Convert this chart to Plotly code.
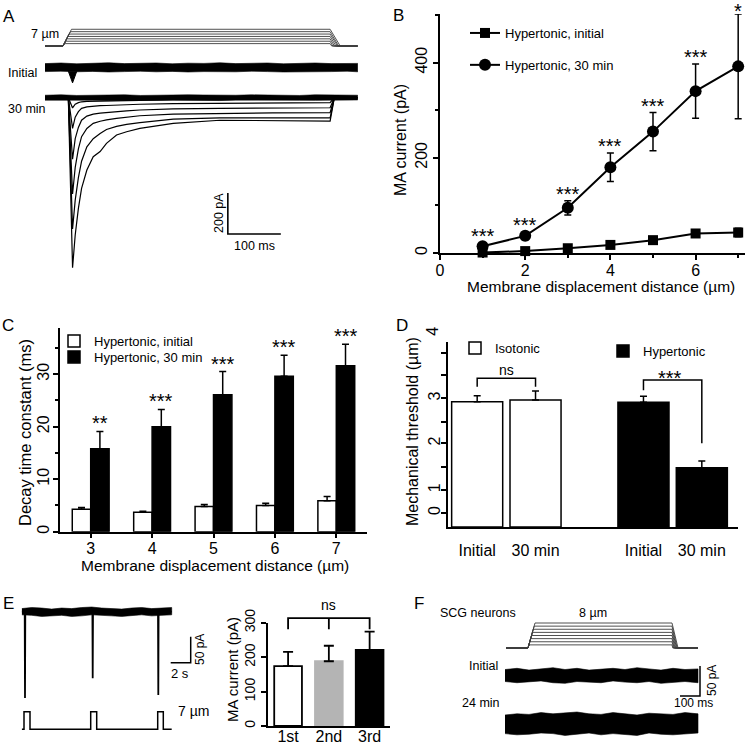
import plotly.graph_objects as go

W, H = 746, 750
FONT = "Liberation Sans, Arial, Helvetica, sans-serif"


def fx(p):
    return p / W


def fy(p):
    return 1 - p / H


# ======================= DATA =======================
# ---- Panel A: stimulus protocol (µm) ----
A_steps = [1, 2, 3, 4, 5, 6, 7]
A_ramp_on = 34          # ms
A_up_end = [36, 39, 41, 43, 45, 48, 50]
A_ramp_off = 538
A_down_end = [541, 543, 546, 549, 552, 554, 557]
A_t_end = 590

# ---- Panel A: "Initial" noisy trace envelope (pA) ----
A_env_t = [0, 30, 60, 90, 120, 150, 180, 210, 240, 270, 300, 330, 360, 390, 420, 450, 480, 510, 540, 570, 590]
A_init_up = [19, 22, 18, 21, 23, 19, 20, 22, 18, 21, 20, 23, 19, 21, 22, 18, 20, 22, 19, 21, 20]
A_init_lo = [-20, -18, -21, -19, -22, -20, -18, -21, -19, -22, -20, -19, -21, -18, -20, -22, -19, -21, -20, -18, -21]
A_init_dip_t = [44, 52, 60]
A_init_dip_i = [-18, -75, -18]
A_base_up = [12, 14, 11, 13, 12, 14, 11, 13, 12, 14, 13, 11, 12, 14, 13, 12, 11, 14, 12, 13, 12]
A_base_lo = [-12, -11, -13, -12, -14, -11, -13, -12, -11, -13, -12, -14, -11, -12, -13, -11, -12, -13, -14, -12, -11]

# ---- Panel A: "30 min" MA currents (pA) for 2–7 µm ----
A_t = [0, 44, 52, 57, 63, 69, 79, 91, 104, 116, 135, 154, 179, 242, 330, 430, 538, 546, 590]
A_30_2um = [0, 0, -50, -32, -24, -20, -18, -17, -16, -15, -15, -14, -13, -11, -10, -9, -8, 0, 0]
A_30_3um = [0, 0, -150, -95, -68, -52, -45, -41, -39, -38, -36, -34, -32, -29, -27, -25, -24, 0, 0]
A_30_4um = [0, 0, -300, -200, -145, -110, -90, -80, -75, -72, -68, -64, -60, -55, -52, -50, -49, 0, 0]
A_30_5um = [0, 0, -470, -340, -250, -190, -150, -125, -115, -108, -101, -95, -88, -80, -76, -74, -73, 0, 0]
A_30_6um = [0, 0, -640, -500, -390, -310, -240, -200, -175, -155, -140, -130, -122, -105, -98, -97, -98, 0, 0]
A_30_7um = [0, 0, -829, -670, -540, -442, -353, -288, -263, -223, -182, -166, -150, -125, -110, -112, -114, 0, 0]

# ---- Panel B ----
B_x = [1, 2, 3, 4, 5, 6, 7]
B_init = [1, 4, 10, 17, 27, 41, 43]
B_init_err = [1, 2, 3, 4, 5, 5, 9]
B_30 = [14, 36, 95, 180, 255, 340, 392]
B_30_err = [6, 8, 15, 30, 40, 57, 110]
B_sig = ["***", "***", "***", "***", "***", "***", "*"]

# ---- Panel C ----
C_x = [3, 4, 5, 6, 7]
C_init = [4.3, 3.7, 4.8, 5.0, 5.9]
C_init_err = [0.3, 0.2, 0.4, 0.4, 0.8]
C_30 = [15.8, 20.0, 26.1, 29.6, 31.6]
C_30_err = [3.3, 3.3, 4.4, 4.0, 4.1]
C_sig = ["**", "***", "***", "***", "***"]

# ---- Panel D ----
D_cond = ["Initial", "30 min"]
D_iso = [2.92, 2.96]
D_iso_err = [0.14, 0.21]
D_hyp = [2.91, 1.38]
D_hyp_err = [0.14, 0.16]

# ---- Panel E ----
E_stim_t = [0, 0.23, 0.23, 0.83, 0.83, 6.9, 6.9, 7.5, 7.5, 13.6, 13.6, 14.16, 14.16, 15.0]
E_stim_um = [0, 0, 7, 7, 0, 0, 7, 7, 0, 0, 7, 7, 0, 0]
E_trace_t = [0, 0.30, 0.33, 0.36, 7.07, 7.10, 7.13, 13.63, 13.66, 13.69, 15.0]
E_trace_pA = [0, 0, -166, 0, 0, -128, 0, 0, -160, 0, 0]
E_env_t = [0, 1, 2, 3, 4, 5, 6, 7, 8, 9, 10, 11, 12, 13, 14, 15]
E_env_up = [6, 8, 7, 5, 7, 6, 8, 9, 7, 6, 5, 7, 8, 6, 7, 8]
E_env_lo = [-6, -7, -9, -8, -7, -9, -8, -6, -7, -8, -9, -7, -6, -8, -7, -6]
E_labels = ["1st", "2nd", "3rd"]
E_vals = [174, 188, 221]
E_err = [41, 45, 53]

# ---- Panel F ----
F_steps = [1, 2, 3, 4, 5, 6, 7, 8]
F_t_start = 5
F_ramp_on = 115
F_up_end = [119, 124, 128, 133, 137, 141, 146, 150]
F_ramp_off = 835
F_down_end = [839, 843, 846, 850, 854, 858, 861, 865]
F_t_end = 965
F_env_t = [0, 60, 120, 180, 240, 300, 360, 420, 480, 540, 600, 660, 720, 780, 840, 900, 965]
F_init_up = [10, 12, 9, 11, 13, 10, 12, 9, 11, 12, 10, 13, 11, 9, 12, 10, 11]
F_init_lo = [-10, -12, -11, -9, -12, -13, -10, -11, -12, -9, -11, -12, -10, -13, -11, -10, -12]
F_24_up = [15, 17, 16, 19, 17, 18, 20, 17, 16, 19, 17, 15, 18, 17, 16, 19, 17]
F_24_lo = [-16, -18, -17, -15, -16, -19, -17, -15, -18, -16, -17, -19, -15, -17, -18, -16, -15]

# ======================= FIGURE =======================
fig = go.Figure()


def line(x, y, xa, ya, color="black", width=1.0, **kw):
    return go.Scatter(x=x, y=y, xaxis=xa, yaxis=ya, mode="lines",
                      line=dict(color=color, width=width), showlegend=False,
                      hoverinfo="skip", cliponaxis=False, **kw)


def band(t, up, lo, xa, ya, color="black"):
    return go.Scatter(x=list(t) + list(t)[::-1], y=list(up) + list(lo)[::-1],
                      xaxis=xa, yaxis=ya, mode="lines", fill="toself",
                      fillcolor=color, line=dict(color=color, width=0.6),
                      showlegend=False, hoverinfo="skip")


# ---- A ----
for s, ue, de in zip(A_steps, A_up_end, A_down_end):
    fig.add_trace(line([0, A_ramp_on, ue, A_ramp_off, de, A_t_end], [0, 0, s, s, 0, 0],
                       "x", "y", color="#3c3c3c", width=0.9))
fig.add_trace(band(A_env_t, A_init_up, A_init_lo, "x", "y2"))
fig.add_trace(go.Scatter(x=A_init_dip_t, y=A_init_dip_i, xaxis="x", yaxis="y2", mode="lines",
                         fill="toself", fillcolor="black", line=dict(color="black", width=1),
                         showlegend=False, hoverinfo="skip"))
fig.add_trace(band(A_env_t, A_base_up, A_base_lo, "x", "y3"))
for tr in [A_30_2um, A_30_3um, A_30_4um, A_30_5um, A_30_6um, A_30_7um]:
    fig.add_trace(line(A_t, tr, "x", "y3", width=1.2))
A_sb_t, A_sb_i = 345, -665
fig.add_trace(line([A_sb_t, A_sb_t, A_sb_t + 100], [A_sb_i + 200, A_sb_i, A_sb_i], "x", "y3", width=1.6))

# ---- B ----
fig.add_trace(go.Scatter(
    x=B_x, y=B_init, xaxis="x2", yaxis="y4", mode="lines+markers", name="Hypertonic, initial",
    line=dict(color="black", width=2), marker=dict(symbol="square", size=10, color="black"),
    error_y=dict(type="data", array=B_init_err, color="black", thickness=1.5, width=3.5),
    legend="legend", legendgroup="b1", cliponaxis=False, hoverinfo="skip"))
fig.add_trace(go.Scatter(
    x=B_x, y=B_30, xaxis="x2", yaxis="y4", mode="lines+markers", name="Hypertonic, 30 min",
    line=dict(color="black", width=2), marker=dict(symbol="circle", size=12, color="black"),
    error_y=dict(type="data", array=B_30_err, color="black", thickness=1.5, width=3.5),
    legend="legend", legendgroup="b2", cliponaxis=False, hoverinfo="skip"))

# ---- C ----
fig.add_trace(go.Bar(
    x=C_x, y=C_init, width=0.3, offset=-0.3, xaxis="x3", yaxis="y5", name="Hypertonic, initial",
    marker=dict(color="white", line=dict(color="black", width=1.5)),
    error_y=dict(type="data", array=C_init_err, arrayminus=[0] * len(C_x), symmetric=False,
                 color="black", thickness=1.5, width=3.5),
    legend="legend2", hoverinfo="skip"))
fig.add_trace(go.Bar(
    x=C_x, y=C_30, width=0.3, offset=0.0, xaxis="x3", yaxis="y5", name="Hypertonic, 30 min",
    marker=dict(color="black", line=dict(color="black", width=1.5)),
    error_y=dict(type="data", array=C_30_err, arrayminus=[0] * len(C_x), symmetric=False,
                 color="black", thickness=1.5, width=3.5),
    legend="legend5", hoverinfo="skip"))

# ---- D ----
D_group_start = {"iso": 0.0, "hyp": 2.85}
D_pos_iso = [D_group_start["iso"] + i for i in range(len(D_cond))]
D_pos_hyp = [D_group_start["hyp"] + i for i in range(len(D_cond))]
D_bw = 0.875
fig.add_trace(go.Bar(
    x=D_pos_iso, y=D_iso, width=D_bw, offset=-D_bw / 2, xaxis="x4", yaxis="y6", name="Isotonic",
    marker=dict(color="white", line=dict(color="black", width=1.5)),
    error_y=dict(type="data", array=D_iso_err, arrayminus=[0, 0], symmetric=False,
                 color="black", thickness=1.5, width=3.5),
    legend="legend3", hoverinfo="skip"))
fig.add_trace(go.Bar(
    x=D_pos_hyp, y=D_hyp, width=D_bw, offset=-D_bw / 2, xaxis="x4", yaxis="y6", name="Hypertonic",
    marker=dict(color="black", line=dict(color="black", width=1.5)),
    error_y=dict(type="data", array=D_hyp_err, arrayminus=[0, 0], symmetric=False,
                 color="black", thickness=1.5, width=3.5),
    legend="legend4", hoverinfo="skip"))
fig.add_trace(line([D_pos_iso[0], D_pos_iso[0], D_pos_iso[1], D_pos_iso[1]],
                   [3.27, 3.47, 3.47, 3.27], "x4", "y6", width=1.5))
fig.add_trace(line([D_pos_hyp[0], D_pos_hyp[0], D_pos_hyp[1], D_pos_hyp[1]],
                   [3.19, 3.43, 3.43, 1.95], "x4", "y6", width=1.5))

# ---- E ----
fig.add_trace(band(E_env_t, E_env_up, E_env_lo, "x5", "y7"))
fig.add_trace(line(E_trace_t, E_trace_pA, "x5", "y7", width=1.8))
fig.add_trace(line(E_stim_t, E_stim_um, "x5", "y8", width=1.5))
E_sb_t, E_sb_i = 14.9, -98
fig.add_trace(line([E_sb_t, E_sb_t + 2, E_sb_t + 2], [E_sb_i, E_sb_i, E_sb_i + 50], "x5", "y7", width=1.5))
E_pos = list(range(len(E_labels)))
fig.add_trace(go.Bar(
    x=E_pos, y=E_vals, width=0.68, offset=-0.34, xaxis="x6", yaxis="y9", showlegend=False,
    marker=dict(color=["white", "#b4b4b4", "black"],
                line=dict(color=["black", "#b4b4b4", "black"], width=1.8)),
    error_y=dict(type="data", array=E_err, arrayminus=[0, 0, 0], symmetric=False,
                 color="black", thickness=1.8, width=5),
    hoverinfo="skip"))
# bracket drawn on a hidden overlay axis with the same scale, so it can rise above 300 pA
fig.add_trace(line([E_pos[0], E_pos[0], E_pos[2], E_pos[2]], [281, 313, 313, 281], "x6", "y13", width=1.8))
fig.add_trace(line([E_pos[1], E_pos[1]], [313, 281], "x6", "y13", width=1.8))

# ---- F ----
for s, ue, de in zip(F_steps, F_up_end, F_down_end):
    fig.add_trace(line([F_t_start, F_ramp_on, ue, F_ramp_off, de, F_t_end], [0, 0, s, s, 0, 0],
                       "x7", "y10", color="#3c3c3c", width=0.9))
fig.add_trace(band(F_env_t, F_init_up, F_init_lo, "x7", "y11"))
fig.add_trace(band(F_env_t, F_24_up, F_24_lo, "x7", "y12"))
F_sb_t, F_sb_i = 875, -34
fig.add_trace(line([F_sb_t, F_sb_t + 100, F_sb_t + 100], [F_sb_i, F_sb_i, F_sb_i + 50], "x7", "y11", width=1.5))

# ======================= LAYOUT =======================
tickfont = dict(size=16, color="black", family=FONT)


def axis(**kw):
    d = dict(showline=True, linecolor="black", linewidth=1.5, ticks="outside", tickcolor="black",
             tickwidth=1.5, ticklen=5, showgrid=False, zeroline=False, tickfont=tickfont,
             automargin=False, fixedrange=True)
    d.update(kw)
    return d


hidden = dict(visible=False, showgrid=False, zeroline=False, fixedrange=True, automargin=False)

E_y0, E_y300 = 726, 622.7
E_top_px = 595
E_overlay_top = 300 * (E_y0 - E_top_px) / (E_y0 - E_y300)


def leg(x, y, size=13, **kw):
    d = dict(x=fx(x), y=fy(y), xanchor="left", yanchor="top", bgcolor="rgba(0,0,0,0)",
             borderwidth=0, font=dict(size=size, family=FONT, color="black"))
    d.update(kw)
    return d


layout = dict(
    width=W, height=H, autosize=False, margin=dict(l=0, r=0, t=0, b=0, pad=0),
    paper_bgcolor="white", plot_bgcolor="rgba(0,0,0,0)",
    font=dict(family=FONT, color="black"),
    barmode="overlay", showlegend=True,
    # A
    xaxis=dict(hidden, domain=[fx(45), fx(358)], range=[0, 590.6], anchor="y"),
    yaxis=dict(hidden, domain=[fy(50), fy(26)], range=[-1.67, 8.37], anchor="x"),
    yaxis2=dict(hidden, domain=[fy(90), fy(55)], range=[-109.8, 61], anchor="x"),
    yaxis3=dict(hidden, domain=[fy(275), fy(88)], range=[-865, 47.3], anchor="x"),
    # B
    xaxis2=axis(domain=[fx(440), fx(745)], range=[0, 7.16], anchor="y4",
                tickvals=[0, 2, 4, 6], ticklabelstandoff=-3,
                minor=dict(tickvals=[1, 3, 5, 7], ticks="outside", ticklen=3, tickwidth=1.5, tickcolor="black")),
    yaxis4=axis(domain=[fy(253), fy(14)], range=[0, 502], anchor="x2", tickvals=[0, 200, 400],
                tickangle=-90,
                minor=dict(tickvals=[100, 300, 500], ticks="outside", ticklen=3, tickwidth=1.5, tickcolor="black")),
    # C
    xaxis3=axis(domain=[fx(60), fx(367)], range=[2.5, 7.5], anchor="y5", tickvals=C_x,
                ticklabelstandoff=-4),
    yaxis5=axis(domain=[fy(531.7), fy(328)], range=[0, 38.8], anchor="x3", tickvals=[0, 10, 20, 30],
                tickangle=-90, ticklabelstandoff=-2,
                minor=dict(tickvals=[5, 15, 25, 35], ticks="outside", ticklen=3, tickwidth=1.5, tickcolor="black")),
    # D
    xaxis4=axis(domain=[fx(448), fx(738)], range=[-0.5, 4.47], anchor="y6", ticks="",
                tickvals=D_pos_iso + D_pos_hyp, ticktext=D_cond + D_cond, ticklabelstandoff=8),
    yaxis6=axis(domain=[fy(527), fy(341.7)], range=[0, 4.32], anchor="x4", ticks="",
                tickvals=[0.33, 0.86, 1.95, 3.0], ticktext=["0", "1", "2", "3"], tickangle=-90,
                minor=dict(tickvals=[0.33, 0.86, 1.41, 1.95, 2.45, 3.0, 3.54, 4.06], ticks="outside",
                           ticklen=5, tickwidth=1.5, tickcolor="black")),
    # E traces
    xaxis5=dict(hidden, domain=[fx(21.7), fx(195)], range=[0, 17.33], anchor="y7"),
    yaxis7=dict(hidden, domain=[fy(705), fy(600)], range=[-179.4, 22.5], anchor="x5"),
    yaxis8=dict(hidden, domain=[fy(735), fy(705)], range=[-2.27, 9.67], anchor="x5"),
    # E bars
    xaxis6=axis(domain=[fx(267.7), fx(390)], range=[-0.5, 2.5], anchor="y9", ticks="", ticklen=0,
                tickvals=E_pos, ticktext=E_labels, linewidth=2, ticklabelstandoff=-5),
    yaxis9=axis(domain=[fy(E_y0), fy(E_y300)], range=[0, 300], anchor="x6", tickvals=[0, 100, 200, 300],
                tickangle=-90, tickfont=dict(size=14, color="black", family=FONT), linewidth=2),
    yaxis13=dict(hidden, domain=[fy(E_y0), fy(E_top_px)], range=[0, E_overlay_top], anchor="x6"),
    # F
    xaxis7=dict(hidden, domain=[fx(505), fx(705)], range=[0, 1000], anchor="y10"),
    yaxis10=dict(hidden, domain=[fy(652), fy(618)], range=[-1.28, 9.6], anchor="x7"),
    yaxis11=dict(hidden, domain=[fy(700), fy(655)], range=[-40.8, 34.2], anchor="x7"),
    yaxis12=dict(hidden, domain=[fy(745), fy(705)], range=[-35, 31.7], anchor="x7"),
    legend=leg(465, 18, tracegroupgap=12),
    legend2=leg(54, 326),
    legend5=leg(54, 342),
    legend3=leg(455, 333),
    legend4=leg(603, 336),
)
fig.update_layout(**layout)

# ======================= ANNOTATIONS =======================
ann = []


def ptext(text, x, y, size=13, xanchor="center", angle=0, family=FONT):
    ann.append(dict(text=text, x=fx(x), y=fy(y), xref="paper", yref="paper", showarrow=False,
                    xanchor=xanchor, yanchor="middle", textangle=angle,
                    font=dict(size=size, color="black", family=family)))


# panel letters
for L, x, y in [("A", 9, 17), ("B", 398, 15), ("C", 8, 325), ("D", 402, 325), ("E", 8, 603), ("F", 419, 603)]:
    ptext(L, x, y, size=17)

# axis titles
ptext("Membrane displacement distance (µm)", 601, 286, size=15.5)
ptext("MA current (pA)", 401, 140, size=16, angle=-90)
ptext("Membrane displacement distance (µm)", 214.5, 565, size=15.5)
ptext("Decay time constant (ms)", 25, 433, size=16.5, angle=-90)
ptext("Mechanical threshold (µm)", 413, 432, size=16, angle=-90)
ptext("MA current (pA)", 232, 670, size=15, angle=-90)

# A labels
ptext("7 µm", 61, 34, size=12.5, xanchor="right")
ptext("Initial", 22, 73, size=12.5)
ptext("30 min", 27, 109, size=12.5)
ptext("200 pA", 219, 213, size=12.5, angle=-90)
ptext("100 ms", 254, 246, size=12.5)

# E labels
ptext("2 s", 180, 673, size=13)
ptext("50 pA", 200, 650, size=12, angle=-90)
ptext("7 µm", 176, 711, size=14, xanchor="left")

# F labels
ptext("SCG neurons", 478, 613, size=12.5)
ptext("8 µm", 593, 613, size=12.5)
ptext("Initial", 500, 666, size=12.5, xanchor="right")
ptext("24 min", 502, 703, size=12.5, xanchor="right")
ptext("50 pA", 712, 681, size=12, angle=-90)
ptext("100 ms", 693, 703, size=12)

# D stray tick label "4"
ptext("4", 433, 331.7, size=16, angle=-90)

# significance marks (data coordinates)
for x, m, e, s in zip(B_x, B_30, B_30_err, B_sig):
    ann.append(dict(text=s, x=x, y=m + e, xref="x2", yref="y4", showarrow=False, yanchor="middle",
                    yshift=7 if s != "*" else 3, font=dict(size=20, color="black", family=FONT)))
for x, m, e, s in zip(C_x, C_30, C_30_err, C_sig):
    ann.append(dict(text=s, x=x + 0.15, y=m + e, xref="x3", yref="y5", showarrow=False, yanchor="middle",
                    yshift=8, font=dict(size=20, color="black", family=FONT)))
ann.append(dict(text="ns", x=(D_pos_iso[0] + D_pos_iso[1]) / 2, y=3.66, xref="x4", yref="y6",
                showarrow=False, yanchor="middle", font=dict(size=14, color="black", family=FONT)))
ann.append(dict(text="***", x=(D_pos_hyp[0] + D_pos_hyp[1]) / 2 - 0.04, y=3.54, xref="x4", yref="y6",
                showarrow=False, yanchor="middle", yshift=-3, font=dict(size=20, color="black", family=FONT)))
ann.append(dict(text="ns", x=E_pos[1], y=352, xref="x6", yref="y13",
                showarrow=False, yanchor="middle", font=dict(size=14, color="black", family=FONT)))

fig.update_layout(annotations=ann)
fig.write_html("out.html", config={"displayModeBar": False},
               post_script="document.documentElement.style.overflow='hidden';"
                           "document.body.style.margin='0';document.body.style.overflow='hidden';")
